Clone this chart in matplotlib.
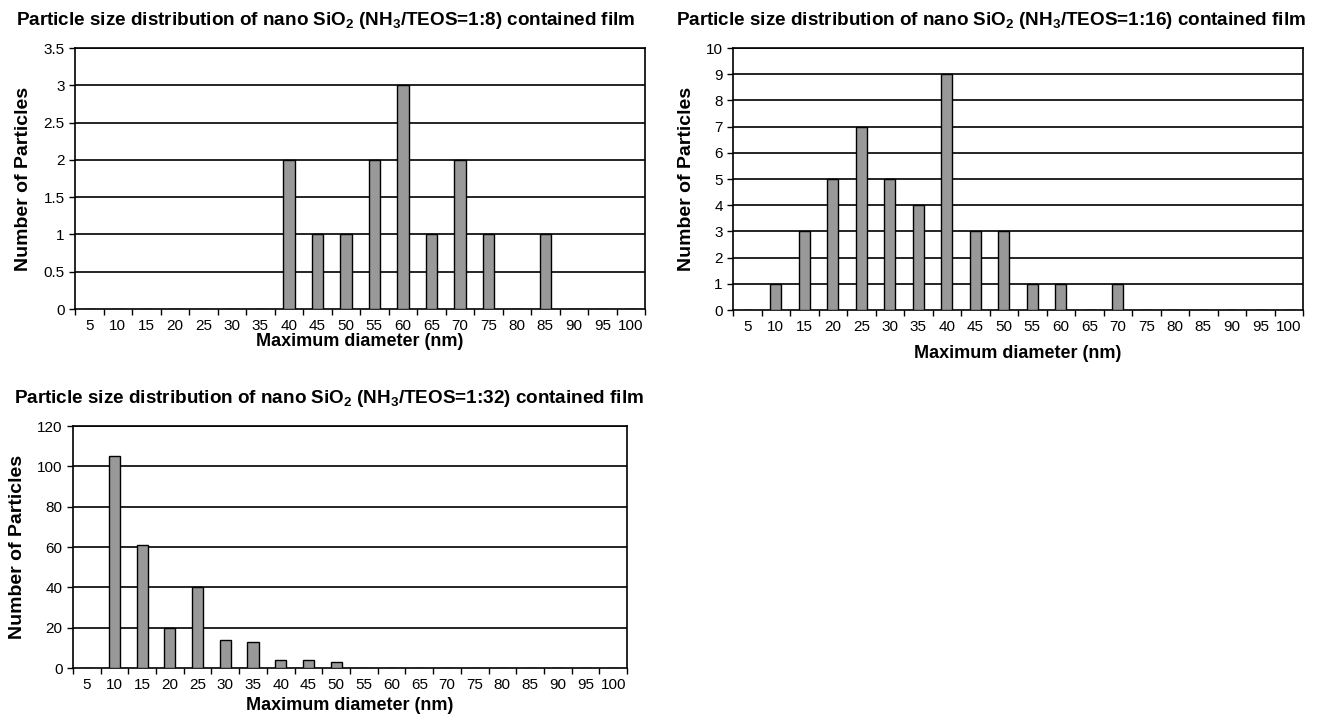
import numpy as np
import matplotlib
matplotlib.use("Agg")
from matplotlib import pyplot as plt
import matplotlib.ticker as mticker

plt.rcParams['font.family'] = ['Liberation Sans', 'DejaVu Sans']
plt.rcParams['mathtext.fontset'] = 'custom'
plt.rcParams['mathtext.rm'] = 'Liberation Sans:bold'
plt.rcParams['mathtext.it'] = 'Liberation Sans:bold'
plt.rcParams['mathtext.bf'] = 'Liberation Sans:bold'

sizes = [5, 10, 15, 20, 25, 30, 35, 40, 45, 50, 55, 60, 65, 70, 75, 80, 85, 90, 95, 100]

# NH3/TEOS = 1:8
counts_8 = [0, 0, 0, 0, 0, 0, 0, 2, 1, 1, 2, 3, 1, 2, 1, 0, 1, 0, 0, 0]
# NH3/TEOS = 1:16
counts_16 = [0, 1, 3, 5, 7, 5, 4, 9, 3, 3, 1, 1, 0, 1, 0, 0, 0, 0, 0, 0]
# NH3/TEOS = 1:32
counts_32 = [0, 105, 61, 20, 40, 14, 13, 4, 4, 3, 0, 0, 0, 0, 0, 0, 0, 0, 0, 0]

titles = [
    "Particle size distribution of nano SiO$_2$ (NH$_3$/TEOS=1:8) contained film",
    "Particle size distribution of nano SiO$_2$ (NH$_3$/TEOS=1:16) contained film",
    "Particle size distribution of nano SiO$_2$ (NH$_3$/TEOS=1:32) contained film",
]

fig = plt.figure(figsize=(13.17, 7.2), dpi=100)


def draw(rect, counts, ymax, ystep, title, title_xy, xpad):
    ax = fig.add_axes(rect)
    x = np.arange(len(sizes))
    ax.bar(x, counts, width=0.4, color='#999999', edgecolor='black', linewidth=1.0, zorder=3)
    ax.set_xlim(-0.5, len(sizes) - 0.5)
    ax.set_ylim(0, ymax)
    yt = np.arange(0, ymax + ystep / 2, ystep)
    ax.set_yticks(yt)
    ax.yaxis.set_major_formatter(mticker.FuncFormatter(lambda v, p: '%g' % v))
    for v in yt[1:]:
        ax.axhline(v, color='black', linewidth=1.2, zorder=1)
    ax.set_xticks(x)
    ax.set_xticklabels([str(s) for s in sizes])
    ax.set_xticks(np.arange(-0.5, len(sizes)), minor=True)
    ax.tick_params(axis='x', which='major', length=0, labelsize=11, pad=7)
    ax.tick_params(axis='x', which='minor', length=4, direction='out', width=1)
    ax.tick_params(axis='y', length=4, direction='out', labelsize=11, width=1)
    for s in ax.spines.values():
        s.set_linewidth(1.2)
    ax.set_ylabel("Number of Particles", fontsize=14, fontweight='bold', labelpad=8)
    ax.set_xlabel("Maximum diameter (nm)", fontsize=13, fontweight='bold', labelpad=xpad)
    fig.text(title_xy[0], title_xy[1], title, ha='center', va='center',
             fontsize=13.6, fontweight='bold')
    return ax


draw([0.057, 0.5708, 0.4328, 0.3625], counts_8, 3.5, 0.5, titles[0], (0.2476, 0.972), 0)
draw([0.5566, 0.5694, 0.4328, 0.3639], counts_16, 10, 1, titles[1], (0.7525, 0.972), 8)
draw([0.0554, 0.0722, 0.4207, 0.3361], counts_32, 120, 20, titles[2], (0.25, 0.447), 4)

fig.savefig("out.png", dpi=100)
